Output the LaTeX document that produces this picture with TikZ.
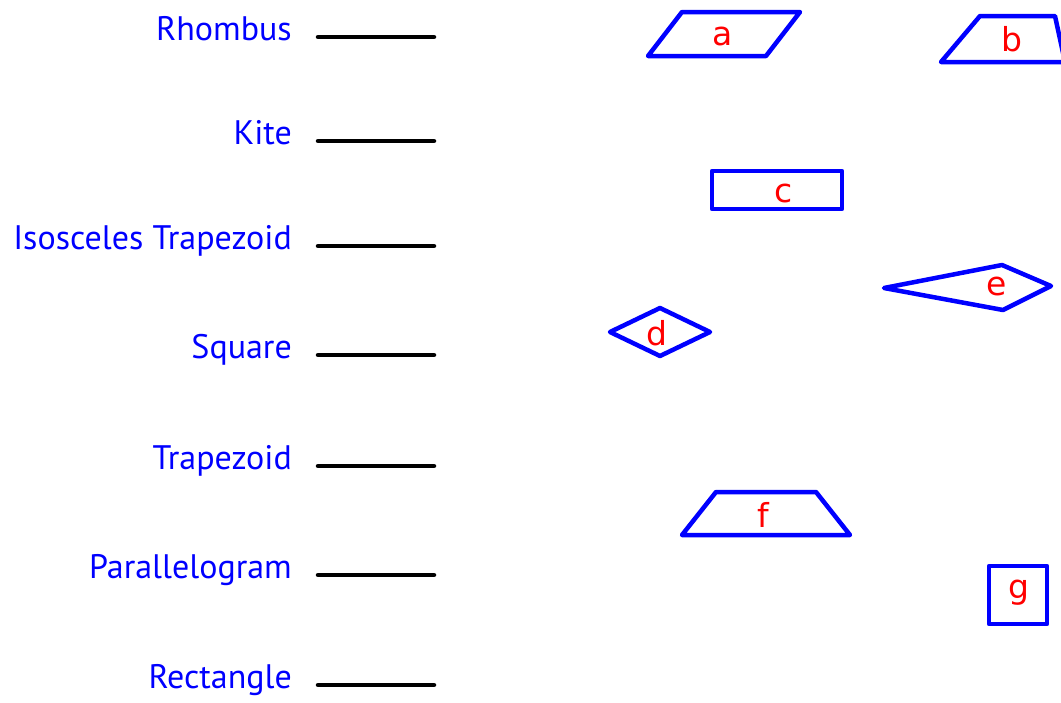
\documentclass[tikz,border=0pt]{standalone}
\usepackage{fontspec}
\usepackage{xcolor}
\usepackage{tikz}
\usetikzlibrary{positioning}
\newfontfamily\namefont{PT Sans}
\newfontfamily\tagfont{DejaVu Sans}
\definecolor{ShapeBlue}{RGB}{0,0,255}
\definecolor{TagRed}{RGB}{255,0,0}
\tikzset{
  shapeline/.style={draw=ShapeBlue,line width=4.5pt,line join=round},
  tag/.style={text=TagRed,anchor=base,inner sep=0pt,font=\tagfont\fontsize{33}{33}\selectfont},
  shapename/.style={text=ShapeBlue,anchor=base east,inner sep=0pt,font=\namefont\fontsize{34}{34}\selectfont},
  blank/.style={draw=black,line width=4.5pt,line cap=round}
}
\begin{document}
\begin{tikzpicture}[x=1pt,y=-1pt]
\useasboundingbox (0,0) rectangle (1061,702);
% names and answer blanks
\foreach \name/\txt/\ypos [count=\i] in {rhombus/Rhombus/37,kite/Kite/141,isotrap/Isosceles Trapezoid/246,square/Square/355,trap/Trapezoid/466,para/Parallelogram/575,rect/Rectangle/685}{
  \node[shapename] (\name) at (292,\ypos+3) {\txt};
  \coordinate (\name-s) at (318,\ypos);
  \coordinate (\name-e) at (434,\ypos);
  \draw[blank] (\name-s) -- (\name-e);
}
% shapes
\draw[shapeline] (648,56) -- (682,12) -- (800,12) -- (766,56) -- cycle;
\draw[shapeline] (941,62) -- (980,16) -- (1055,16) -- (1065,62) -- cycle;
\draw[shapeline] (712,171) rectangle (842,209);
\draw[shapeline] (610,332) -- (660,308) -- (710,332) -- (660,356) -- cycle;
\draw[shapeline] (884,288) -- (1002,265) -- (1051,286) -- (1003,310) -- cycle;
\draw[shapeline] (682,535) -- (716,492) -- (816,492) -- (850,535) -- cycle;
\draw[shapeline] (989,566) rectangle (1047,624);
% letters
\node[tag] (tag-a) at (723,45) {a};
\node[tag] (tag-b) at (1012,51) {b};
\node[tag] (tag-c) at (784,202) {c};
\node[tag] (tag-d) at (657,345) {d};
\node[tag] (tag-e) at (997,295) {e};
\node[tag] (tag-f) at (763,527) {f};
\node[tag] (tag-g) at (1019,598) {g};
\end{tikzpicture}
\end{document}
